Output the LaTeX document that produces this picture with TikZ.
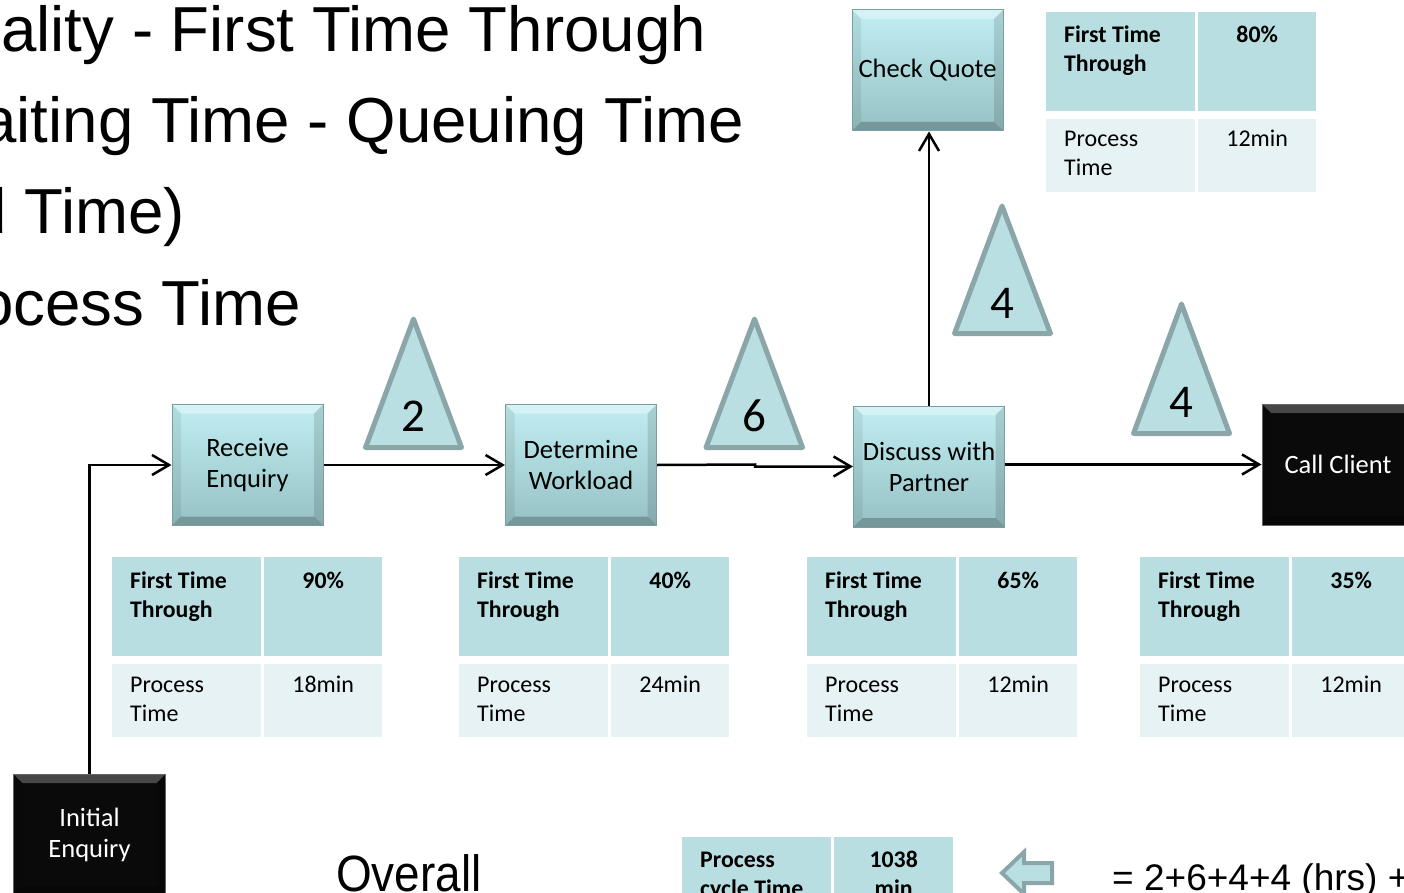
\documentclass[tikz,border=0pt]{standalone}
\usepackage{fontspec}
\setmainfont{Carlito}
\newfontfamily\arialf{Liberation Sans}
\usetikzlibrary{arrows.meta}
\definecolor{boxtop}{HTML}{C0EEF2}
\definecolor{boxbot}{HTML}{96C1C4}
\definecolor{boxedge}{HTML}{7A9FA2}
\definecolor{rowA}{HTML}{B9DEE2}
\definecolor{rowB}{HTML}{E6F2F4}
\definecolor{trifill}{HTML}{B9DFE2}
\definecolor{tristroke}{HTML}{8AA6A9}
\newcommand\boxfont{\fontsize{26.5}{31}\selectfont}
\newcommand\cellfont{\fontsize{24}{29}\selectfont}
\newcommand\cellbold{\fontsize{23.8}{29}\selectfont\bfseries}
\newcommand\titlefont{\arialf\fontsize{63.6}{63.6}\selectfont}
\tikzset{
  bevelpic/.style={path picture={
    \fill[white,opacity=#1] (path picture bounding box.north west) -- (path picture bounding box.north east)
      -- ([shift={(-9pt,-9pt)}]path picture bounding box.north east) -- ([shift={(9pt,-9pt)}]path picture bounding box.north west) -- cycle;
    \fill[black,opacity=0.22] (path picture bounding box.south west) -- (path picture bounding box.south east)
      -- ([shift={(-9pt,9pt)}]path picture bounding box.south east) -- ([shift={(9pt,9pt)}]path picture bounding box.south west) -- cycle;
    \fill[black,opacity=0.07] (path picture bounding box.north west) -- ([shift={(9pt,-9pt)}]path picture bounding box.north west)
      -- ([shift={(9pt,9pt)}]path picture bounding box.south west) -- (path picture bounding box.south west) -- cycle;
    \fill[black,opacity=0.12] (path picture bounding box.north east) -- ([shift={(-9pt,-9pt)}]path picture bounding box.north east)
      -- ([shift={(-9pt,9pt)}]path picture bounding box.south east) -- (path picture bounding box.south east) -- cycle;
  }},
  procbox/.style={rectangle, inner sep=0pt, minimum width=151pt, minimum height=121pt,
    top color=boxtop, bottom color=boxbot, draw=boxedge, line width=1pt,
    align=center, font=\boxfont, bevelpic=0.35},
  darkbox/.style={rectangle, inner sep=0pt, minimum width=152pt, minimum height=121pt,
    fill=black!96, draw=black!60, line width=1pt, text=white,
    align=center, font=\boxfont, bevelpic=0.25},
  cellA/.style={rectangle, inner sep=0pt, fill=rowA, anchor=north west},
  cellB/.style={rectangle, inner sep=0pt, fill=rowB, anchor=north west},
  ctxt/.style={inner sep=0pt, font=\cellfont},
  cbold/.style={inner sep=0pt, font=\cellbold},
  tri/.style={fill=trifill, draw=tristroke, line width=5pt, line join=round},
  tridigit/.style={inner sep=0pt, font=\fontsize{47}{47}\selectfont, anchor=base},
  conn/.style={line width=2.5pt, -{Straight Barb[length=17pt,width=20pt]}},
  title/.style={inner sep=0pt, font=\titlefont, anchor=base east},
}
% #1 name, #2 x, #3 y, #4 percent, #5 time
\newcommand\fttable[5]{%
  \node[cellA, minimum width=149pt, minimum height=99pt] (#1a) at (#2,#3) {};
  \node[cellA, minimum width=118pt, minimum height=99pt] (#1b) at (#2+152,#3) {};
  \node[cellB, minimum width=149pt, minimum height=73pt] (#1c) at (#2,#3+107) {};
  \node[cellB, minimum width=118pt, minimum height=73pt] (#1d) at (#2+152,#3+107) {};
  \node[cbold, anchor=base west] (#1ta) at ([shift={(18pt,-31pt)}]#1a.north west) {First Time};
  \node[cbold, anchor=base west] (#1tb) at ([shift={(18pt,-60pt)}]#1a.north west) {Through};
  \node[cbold, anchor=base] (#1tc) at ([yshift=-31pt]#1b.north) {#4};
  \node[ctxt, anchor=base west] (#1td) at ([shift={(18pt,-28pt)}]#1c.north west) {Process};
  \node[ctxt, anchor=base west] (#1te) at ([shift={(18pt,-57pt)}]#1c.north west) {Time};
  \node[ctxt, anchor=base] (#1tf) at ([yshift=-28pt]#1d.north) {#5};
}
\begin{document}
\begin{tikzpicture}[x=1pt,y=-1pt]
\path[use as bounding box] (0,0) rectangle (1404,893);
\clip (0,0) rectangle (1404,893);

% title lines (cut at the left edge)
\node[title] (t1) at (706,52) {Quality - First Time Through};
\node[title] (t2) at (744,143) {Waiting Time - Queuing Time};
\node[title] (t3) at (185,234) {(Lead Time)};
\node[title] (t4) at (301,325) {Process Time};

% process boxes
\node[procbox] (re) at (247.5,465) {Receive\\Enquiry};
\node[procbox] (dw) at (581,465) {Determine\\Workload};
\node[procbox] (dp) at (929,466.5) {Discuss with\\Partner};
\node[procbox] (cq) at (927.5,70.5) {Check Quote};
\node[darkbox] (cc) at (1338,464.5) {Call Client};
\node[darkbox] (ie) at (89.5,834.5) {Initial\\Enquiry};

% inventory triangles
\draw[tri] (413.5,319) -- (461.5,447.5) -- (365.5,447.5) -- cycle;
\node[tridigit] (q2) at (413.5,431) {2};
\draw[tri] (754.5,319) -- (802.5,447.5) -- (706,447.5) -- cycle;
\node[tridigit] (q6) at (754.5,431) {6};
\draw[tri] (1002,206) -- (1050.5,333.5) -- (954.5,333.5) -- cycle;
\node[tridigit] (q4a) at (1002,318) {4};
\draw[tri] (1181.5,304) -- (1229.5,433.5) -- (1133.5,433.5) -- cycle;
\node[tridigit] (q4b) at (1181.5,417) {4};

% connectors
\draw[conn] (ie.north) |- (re.west);
\draw[conn] (re.east) -- (dw.west);
\coordinate (j6) at (755,464.5);
\draw[conn] (dw.east) -- (j6) |- (dp.west);
\draw[conn] (dp.north) -- (dp.north |- cq.south);
\draw[conn] (dp.east |- cc.west) -- (cc.west);

% data tables
\fttable{ta}{112}{557}{90\%}{18min}
\fttable{tb}{459}{557}{40\%}{24min}
\fttable{tc}{807}{557}{65\%}{12min}
\fttable{td}{1140}{557}{35\%}{12min}
\fttable{tq}{1046}{12}{80\%}{12min}

% overall row
\node[inner sep=0pt, anchor=base west, font=\arialf\fontsize{51}{51}\selectfont] (ov) at (336,891) {\scalebox{0.9}[1]{Overall}};
\node[cellA, minimum width=149pt, minimum height=99pt] (pca) at (682,837) {};
\node[cellA, minimum width=119pt, minimum height=99pt] (pcb) at (834,837) {};
\node[cbold, anchor=base west] (pc1) at ([shift={(18pt,-30pt)}]pca.north west) {Process};
\node[cbold, anchor=base west] (pc2) at ([shift={(18pt,-59pt)}]pca.north west) {cycle Time};
\node[cbold, anchor=base] (pc3) at ([yshift=-30pt]pcb.north) {1038};
\node[cbold, anchor=base] (pc4) at ([yshift=-59pt]pcb.north) {min};
\draw[fill=trifill, draw=tristroke, line width=4pt, line join=miter]
  (1052,863) -- (1024,863) -- (1024,852) -- (1002,873) -- (1024,894) -- (1024,883) -- (1052,883) -- cycle;
\node[inner sep=0pt, anchor=base west, font=\arialf\fontsize{37}{37}\selectfont] (eq) at (1112,890) {= 2+6+4+4 (hrs) +};
\end{tikzpicture}
\end{document}
